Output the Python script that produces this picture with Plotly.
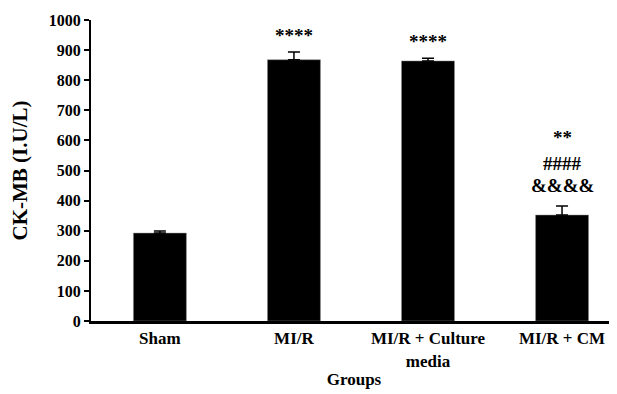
import plotly.graph_objects as go

groups = ["Sham", "MI/R", "MI/R + Culture<br>media", "MI/R + CM"]
values = [292, 868, 864, 352]
errors = [7, 26, 9, 30]
sig_labels = [[], [("****", 947)], [("****", 927)], [("**", 610), ("####", 524), ("&&&&", 450)]]
y_ticks = [0, 100, 200, 300, 400, 500, 600, 700, 800, 900, 1000]

FONT = "Liberation Serif"
OFF = 8  # page body margin offset

fig = go.Figure()
fig.add_trace(go.Bar(
    x=list(range(len(groups))), y=values, width=0.395,
    marker=dict(color="black", line=dict(color="#888888", width=0.5)),
    error_y=dict(type="data", array=errors, arrayminus=[0]*len(errors), symmetric=False,
                 color="black", thickness=1.5, width=6),
))

for i, labs in enumerate(sig_labels):
    for txt, yv in labs:
        fig.add_annotation(x=i, y=yv, text=f"<b>{txt}</b>", showarrow=False,
                           font=dict(family=FONT, size=19, color="black"))

fig.update_layout(
    width=617, height=394,
    margin=dict(l=91 - OFF, r=OFF, t=20 - OFF, b=73 + OFF),
    plot_bgcolor="white", paper_bgcolor="white",
    showlegend=False,
    font=dict(family=FONT, color="black"),
)
fig.update_xaxes(
    range=[-0.514, 3.41], tickmode="array", tickvals=list(range(len(groups))),
    ticktext=[f"<b>{g}</b>" for g in groups], tickfont=dict(family=FONT, size=17),
    showline=True, linecolor="black", linewidth=3, ticks="", showgrid=False,
    title=dict(text="<b>Groups</b>", font=dict(family=FONT, size=17), standoff=2),
    automargin=False,
)
fig.update_yaxes(
    range=[0, 1000], tickmode="array", tickvals=y_ticks,
    ticktext=[f"<b>{t}</b>" for t in y_ticks], tickfont=dict(family=FONT, size=16),
    showline=True, linecolor="black", linewidth=2, ticks="outside", ticklen=5, tickwidth=1.5,
    tickcolor="black", showgrid=False, zeroline=False,
    title=dict(text="<b>CK-MB (I.U/L)</b>", font=dict(family=FONT, size=21), standoff=16),
    automargin=False,
)

fig.write_html("out.html")
